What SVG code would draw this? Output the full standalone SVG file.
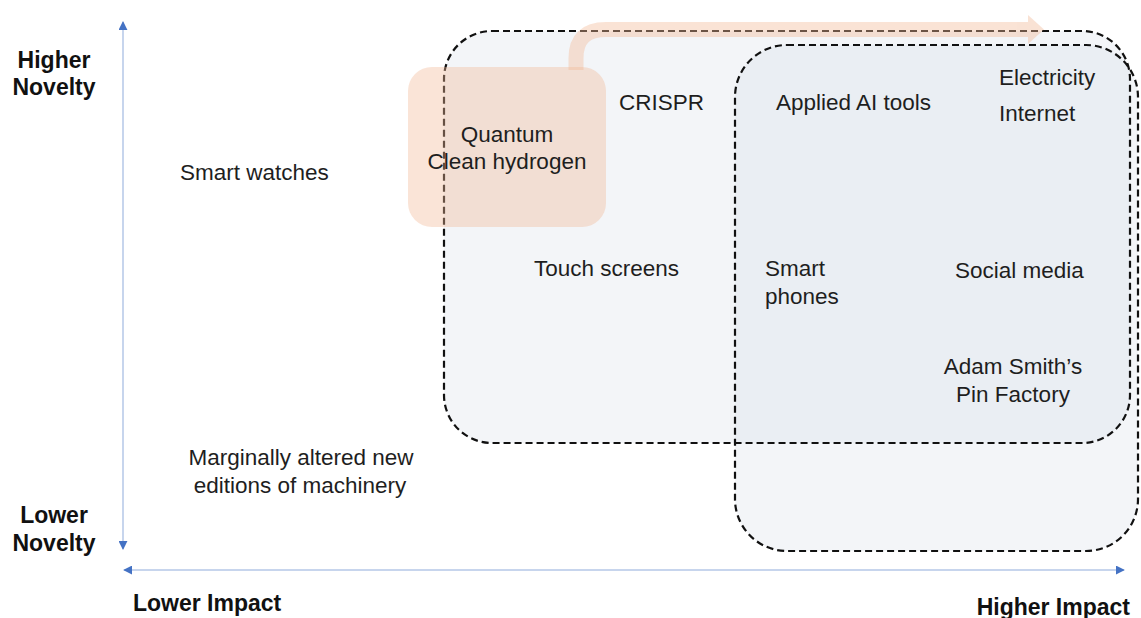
<svg xmlns="http://www.w3.org/2000/svg" width="1141" height="618" viewBox="0 0 1141 618">
  <defs>
    <marker id="axisHead" viewBox="0 0 10 10" refX="9" refY="5" markerWidth="9" markerHeight="9" markerUnits="userSpaceOnUse" orient="auto-start-reverse">
      <path d="M0,0 L10,5 L0,10 z" fill="#4472c4"/>
    </marker>
    <style>
      .lbl { font-family: "Liberation Sans", Arial, sans-serif; font-size: 22.5px; fill: #1e1e1e; }
      .axis-lbl { font-family: "Liberation Sans", Arial, sans-serif; font-size: 23px; font-weight: bold; fill: #111; }
      .zone { fill: #d4dae6; fill-opacity: 0.28; stroke: none; }
      .zone-edge { fill: none; stroke: #111; stroke-width: 2.2; stroke-dasharray: 7 4; }
      .axis { stroke: #b4c7e7; stroke-width: 1.5; fill: none; }
    </style>
  </defs>

  <rect width="1141" height="618" fill="#ffffff"/>

  <!-- shaded zones -->
  <g id="zone-broad">
    <rect class="zone" x="444" y="31" width="686" height="412" rx="48"/>
  </g>
  <g id="zone-high-impact">
    <rect class="zone" x="735" y="45" width="403" height="506" rx="52"/>
  </g>
  <g id="zone-edges">
    <rect class="zone-edge" x="444" y="31" width="686" height="412" rx="48"/>
    <rect class="zone-edge" x="735" y="45" width="403" height="506" rx="52"/>
  </g>

  <!-- axes -->
  <g id="connectors">
    <line class="axis" x1="123" y1="22" x2="123" y2="549" marker-start="url(#axisHead)" marker-end="url(#axisHead)"/>
    <line class="axis" x1="124" y1="570" x2="1124" y2="570" marker-start="url(#axisHead)" marker-end="url(#axisHead)"/>
    <!-- trajectory arrow out of the emerging-tech box -->
    <g id="trajectory" opacity="0.4">
      <path d="M576,70 V58 Q576,29.5 606,29.5 H1029" fill="none" stroke="#f2b896" stroke-width="15"/>
      <polygon points="1028,15 1044,29.5 1028,44" fill="#f2b896"/>
    </g>
  </g>

  <!-- emerging technologies -->
  <g id="emerging">
    <rect x="408" y="67" width="198" height="160" rx="24" fill="#f2b896" fill-opacity="0.38"/>
    <text class="lbl" x="507" y="142" text-anchor="middle">Quantum</text>
    <text class="lbl" x="507" y="169" text-anchor="middle">Clean hydrogen</text>
  </g>

  <g id="smart-watches"><text class="lbl" x="180" y="180">Smart watches</text></g>
  <g id="crispr"><text class="lbl" x="619" y="110">CRISPR</text></g>
  <g id="applied-ai"><text class="lbl" x="776" y="110">Applied AI tools</text></g>
  <g id="electricity"><text class="lbl" x="999" y="85">Electricity</text></g>
  <g id="internet"><text class="lbl" x="999" y="121">Internet</text></g>
  <g id="touch-screens"><text class="lbl" x="534" y="276">Touch screens</text></g>
  <g id="smart-phones">
    <text class="lbl" x="765" y="276">Smart</text>
    <text class="lbl" x="765" y="304">phones</text>
  </g>
  <g id="social-media"><text class="lbl" x="955" y="278">Social media</text></g>
  <g id="pin-factory">
    <text class="lbl" x="1013" y="374" text-anchor="middle">Adam Smith’s</text>
    <text class="lbl" x="1013" y="402" text-anchor="middle">Pin Factory</text>
  </g>
  <g id="machinery">
    <text class="lbl" x="301" y="465" text-anchor="middle">Marginally altered new</text>
    <text class="lbl" x="300" y="493" text-anchor="middle">editions of machinery</text>
  </g>

  <!-- axis labels -->
  <g id="axis-labels">
    <text class="axis-lbl" x="54" y="68" text-anchor="middle">Higher</text>
    <text class="axis-lbl" x="54" y="95" text-anchor="middle">Novelty</text>
    <text class="axis-lbl" x="54" y="523" text-anchor="middle">Lower</text>
    <text class="axis-lbl" x="54" y="551" text-anchor="middle">Novelty</text>
    <text class="axis-lbl" x="133" y="611">Lower Impact</text>
    <text class="axis-lbl" x="1130" y="615" text-anchor="end">Higher Impact</text>
  </g>
</svg>
